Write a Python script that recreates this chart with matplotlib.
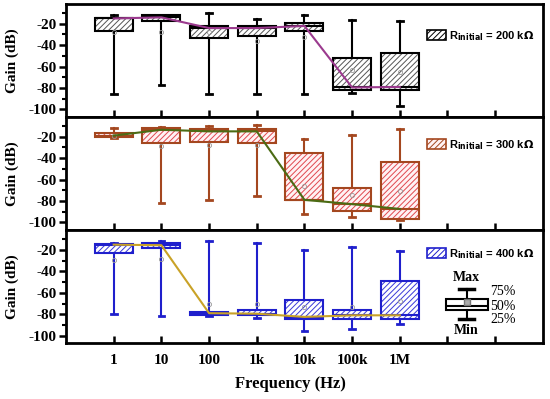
import matplotlib
matplotlib.use('Agg')
import matplotlib.pyplot as plt
from matplotlib.patches import Patch

plt.rcParams['axes.unicode_minus'] = False
plt.rcParams['hatch.linewidth'] = 0.7
plt.rcParams['font.family'] = ['Liberation Serif', 'DejaVu Serif']

freq_labels = ['1', '10', '100', '1k', '10k', '100k', '1M']
positions = [1, 2, 3, 4, 5, 6, 7]

# R_initial = 200 kOhm
r200_whislo = [-86, -77, -86, -86, -86, -85, -97]
r200_q1 = [-27, -17, -33, -31, -27, -81.5, -81.5]
r200_med = [-15, -14, -24, -24, -22, -79.5, -79]
r200_q3 = [-15, -12, -22, -22.5, -19, -52, -47.5]
r200_whishi = [-12, -11.5, -10, -15.5, -12, -16, -17]
r200_mean = [-28, -28, -28, -36, -32, -63, -65]

# R_initial = 300 kOhm
r300_whislo = [-21.5, -81.5, -79, -75, -92, -95, -98]
r300_q1 = [-20.5, -26, -25, -25.5, -79, -89, -97]
r300_med = [-19, -13.5, -15, -15, -79, -83, -87.5]
r300_q3 = [-17, -12, -13, -13, -35, -68, -44]
r300_whishi = [-12, -10.5, -10, -9.5, -22, -18, -13]
r300_mean = [-19, -29, -28, -28, -66, -74, -70.5]

# R_initial = 400 kOhm
r400_whislo = [-79.5, -82, -82, -83.5, -96, -93.5, -89]
r400_q1 = [-23, -18, -81, -81, -84, -84, -84]
r400_med = [-15, -15.5, -79, -79.5, -82.5, -81, -81]
r400_q3 = [-14.5, -13.5, -77.5, -76.5, -67, -76.5, -49]
r400_whishi = [-13, -11.5, -12, -13, -20, -17, -21]
r400_mean = [-29, -28, -70, -70, -73, -73, -68]

# box key shown in bottom panel
key_stats = dict(whislo=-84, q1=-76.5, med=-72, q3=-65.5, whishi=-56, mean=-68.5)
key_pos = 8.4

panels = [
    dict(label='200', data=(r200_whislo, r200_q1, r200_med, r200_q3, r200_whishi, r200_mean),
         edge='black', hatch_c='#555555', fill='white', line='#9B3A8E', leg_y=0.72),
    dict(label='300', data=(r300_whislo, r300_q1, r300_med, r300_q3, r300_whishi, r300_mean),
         edge='#A4471F', hatch_c='#E0484F', fill='#FFF2F4', line='#4B6B14', leg_y=0.75),
    dict(label='400', data=(r400_whislo, r400_q1, r400_med, r400_q3, r400_whishi, r400_mean),
         edge='#1F1FCC', hatch_c='#3A3AD8', fill='white', line='#C9A227', leg_y=0.79),
]

fig = plt.figure(figsize=(5.5, 3.99), dpi=100)
left, width = 0.12, 0.867
bottoms = [0.707, 0.424, 0.140]
height = 0.283


def draw_boxes(ax, stats, pos, edge, hatch_c, fill, width=0.8, capw=0.12, lw=1.5):
    # hatched fill first, then the outline on top
    ax.bxp(stats, positions=pos, widths=width, patch_artist=True, showcaps=False,
           showfliers=False, showmeans=False, manage_ticks=False,
           boxprops=dict(facecolor=fill, edgecolor=hatch_c, hatch='//////', linewidth=0),
           whiskerprops=dict(linewidth=0), medianprops=dict(linewidth=0))
    ax.bxp(stats, positions=pos, widths=width, patch_artist=True, showfliers=False,
           showmeans=True, capwidths=capw, manage_ticks=False,
           boxprops=dict(fill=False, edgecolor=edge, linewidth=lw),
           whiskerprops=dict(color=edge, linewidth=lw),
           capprops=dict(color=edge, linewidth=lw + 0.5),
           medianprops=dict(color=edge, linewidth=lw),
           meanprops=dict(marker='o', markersize=3, markerfacecolor='none',
                          markeredgecolor='#999999', markeredgewidth=0.6))


for i, p in enumerate(panels):
    ax = fig.add_axes([left, bottoms[i], width, height])
    wlo, q1, med, q3, whi, mean = p['data']
    stats = [dict(whislo=wlo[k], q1=q1[k], med=med[k], q3=q3[k], whishi=whi[k], mean=mean[k])
             for k in range(len(positions))]
    draw_boxes(ax, stats, positions, p['edge'], p['hatch_c'], p['fill'])
    ax.plot(positions, med, color=p['line'], linewidth=1.5, zorder=5)

    ax.set_xlim(0, 10)
    ax.set_ylim(-107, -1.5)
    ax.set_yticks([-20, -40, -60, -80, -100])
    ax.set_yticks([-10, -30, -50, -70, -90], minor=True)
    ax.set_xticks(range(1, 10))
    for s in ax.spines.values():
        s.set_linewidth(2)
    ax.tick_params(axis='y', which='major', direction='out', length=5, width=1.8,
                   labelsize=11, pad=2)
    ax.tick_params(axis='y', which='minor', direction='out', length=3, width=1.5)
    ax.tick_params(axis='x', direction='in', length=5, width=1.8, labelsize=11, pad=8)
    for t in ax.get_yticklabels():
        t.set_fontweight('bold')
    ax.set_ylabel('Gain (dB)', fontsize=11, fontweight='bold')
    ax.yaxis.set_label_coords(-0.098, 0.5)

    handle = Patch(facecolor=p['fill'], edgecolor=p['edge'], hatch='//////', linewidth=1.2)
    ax.legend([handle], [r'R$_{\mathbf{initial}}$ = %s k$\mathbf{\Omega}$' % p['label']],
              loc='center left', bbox_to_anchor=(0.745, p['leg_y']), frameon=False,
              handlelength=1.7, handleheight=1.0, handletextpad=0.3, borderpad=0,
              prop=dict(family='Liberation Sans', weight='bold', size=8))

    if i < 2:
        ax.set_xticklabels([])
    else:
        # box legend
        ax.bxp([key_stats], positions=[key_pos], widths=0.88, patch_artist=True,
               showfliers=False, showmeans=True, capwidths=0.3, manage_ticks=False,
               boxprops=dict(facecolor='white', edgecolor='black', linewidth=1.5),
               whiskerprops=dict(color='black', linewidth=1.5),
               capprops=dict(color='black', linewidth=2.5),
               medianprops=dict(color='black', linewidth=1.5),
               meanprops=dict(marker='s', markersize=4, markerfacecolor='#aaaaaa',
                              markeredgecolor='#777777'))
        ax.text(key_pos, -46, 'Max', ha='center', va='center', fontsize=10, fontweight='bold')
        ax.text(key_pos, -95, 'Min', ha='center', va='center', fontsize=10, fontweight='bold')
        ax.text(8.89, -59, '75%', ha='left', va='center', fontsize=10)
        ax.text(8.89, -72.5, '50%', ha='left', va='center', fontsize=10)
        ax.text(8.89, -85, '25%', ha='left', va='center', fontsize=10)
        ax.set_xticks(range(1, 10))
        ax.set_xticklabels(freq_labels + ['', ''], fontweight='bold')
        ax.set_xlabel('Frequency (Hz)', fontsize=12, fontweight='bold')
        ax.xaxis.set_label_coords(0.47, -0.29)

fig.savefig('out.png', dpi=100)
